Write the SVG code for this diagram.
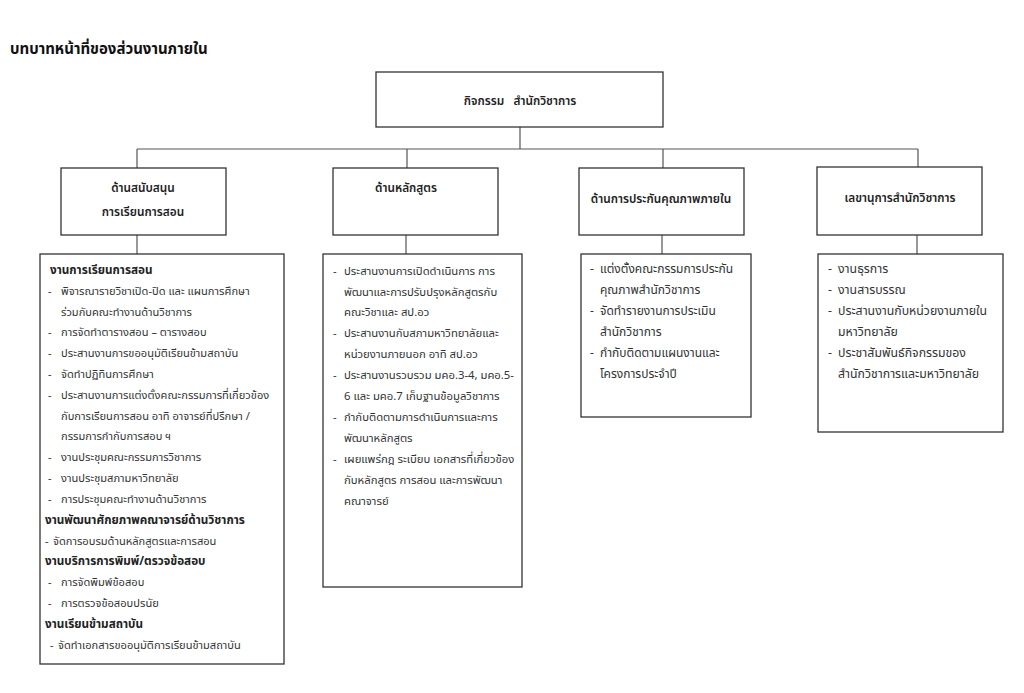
<svg xmlns="http://www.w3.org/2000/svg" width="1024" height="693" viewBox="0 0 1024 693">
<style>
text{font-family:"Noto Sans Thai","Noto Sans","DejaVu Sans",sans-serif;fill:#333;font-size:12px}
#c1 text{font-size:11.1px}
#c2 text{font-size:11.3px}
#c4 text{font-size:12.3px}
#c1 .b{font-size:11.7px;font-weight:bold;fill:#222}
.h{font-size:11.8px;font-weight:600;fill:#222;text-anchor:middle}
.t{font-size:15px;font-weight:bold;fill:#111}
.box{fill:#fff;stroke:#333;stroke-width:1.3}
.ln{stroke:#555;stroke-width:1.2;fill:none}
</style>
<rect width="1024" height="693" fill="#fff"/>
<text class="t" x="10" y="54">บทบาทหน้าที่ของส่วนงานภายใน</text>
<g id="connectors">
<path class="ln" d="M520 127V149M137 149H918M137 149V168M407 149V168M663 149V168M918 149V168"/>
<path class="ln" d="M137 235V254M406 235V254M662 235V254M917 235V254"/>
</g>
<g id="top">
<rect class="box" x="376" y="72" width="287" height="55"/>
<text class="h" x="520" y="105" xml:space="preserve">กิจกรรม   สำนักวิชาการ</text>
</g>
<g id="h1">
<rect class="box" x="61" y="168" width="165" height="67"/>
<text class="h" x="143" y="192">ด้านสนับสนุน</text>
<text class="h" x="143" y="216">การเรียนการสอน</text>
</g>
<g id="h2">
<rect class="box" x="333" y="168" width="165" height="67"/>
<text class="h" x="406" y="192">ด้านหลักสูตร</text>
</g>
<g id="h3">
<rect class="box" x="579" y="168" width="165" height="67"/>
<text class="h" x="661" y="203">ด้านการประกันคุณภาพภายใน</text>
</g>
<g id="h4">
<rect class="box" x="817" y="167" width="165" height="68"/>
<text class="h" x="900" y="202">เลขานุการสำนักวิชาการ</text>
</g>
<g id="c1">
<rect class="box" x="40" y="254" width="244" height="410"/>
<text class="b" x="50" y="274">งานการเรียนการสอน</text>
<text x="48" y="295">-<tspan x="61">พิจารณารายวิชาเปิด-ปิด และ แผนการศึกษา</tspan></text>
<text x="61" y="316">ร่วมกับคณะทำงานด้านวิชาการ</text>
<text x="48" y="336">-<tspan x="61">การจัดทำตารางสอน – ตารางสอบ</tspan></text>
<text x="48" y="357">-<tspan x="61">ประสานงานการขออนุมัติเรียนข้ามสถาบัน</tspan></text>
<text x="48" y="378">-<tspan x="61">จัดทำปฏิทินการศึกษา</tspan></text>
<text x="48" y="399">-<tspan x="61">ประสานงานการแต่งตั้งคณะกรรมการที่เกี่ยวข้อง</tspan></text>
<text x="61" y="420">กับการเรียนการสอน อาทิ อาจารย์ที่ปรึกษา /</text>
<text x="61" y="440">กรรมการกำกับการสอบ ฯ</text>
<text x="48" y="461">-<tspan x="61">งานประชุมคณะกรรมการวิชาการ</tspan></text>
<text x="48" y="482">-<tspan x="61">งานประชุมสภามหาวิทยาลัย</tspan></text>
<text x="48" y="503">-<tspan x="61">การประชุมคณะทำงานด้านวิชาการ</tspan></text>
<text class="b" x="45" y="524">งานพัฒนาศักยภาพคณาจารย์ด้านวิชาการ</text>
<text x="45" y="545">-<tspan x="53">จัดการอบรมด้านหลักสูตรและการสอน</tspan></text>
<text class="b" x="45" y="565">งานบริการการพิมพ์/ตรวจข้อสอบ</text>
<text x="48" y="586">-<tspan x="61">การจัดพิมพ์ข้อสอบ</tspan></text>
<text x="48" y="607">-<tspan x="61">การตรวจข้อสอบปรนัย</tspan></text>
<text class="b" x="45" y="628">งานเรียนข้ามสถาบัน</text>
<text x="50" y="649">-<tspan x="58">จัดทำเอกสารขออนุมัติการเรียนข้ามสถาบัน</tspan></text>
</g>
<g id="c2">
<rect class="box" x="323" y="254" width="199" height="333"/>
<text x="333" y="275">-<tspan x="344">ประสานงานการเปิดดำเนินการ การ</tspan></text>
<text x="344" y="296">พัฒนาและการปรับปรุงหลักสูตรกับ</text>
<text x="344" y="316">คณะวิชาและ สป.อว</text>
<text x="333" y="337">-<tspan x="344">ประสานงานกับสภามหาวิทยาลัยและ</tspan></text>
<text x="344" y="358">หน่วยงานภายนอก อาทิ สป.อว</text>
<text x="333" y="379">-<tspan x="344">ประสานงานรวบรวม มคอ.3-4, มคอ.5-</tspan></text>
<text x="344" y="400">6 และ มคอ.7 เก็บฐานข้อมูลวิชาการ</text>
<text x="333" y="421">-<tspan x="344">กำกับติดตามการดำเนินการและการ</tspan></text>
<text x="344" y="442">พัฒนาหลักสูตร</text>
<text x="333" y="463">-<tspan x="344">เผยแพร่กฎ ระเบียบ เอกสารที่เกี่ยวข้อง</tspan></text>
<text x="344" y="484">กับหลักสูตร การสอน และการพัฒนา</text>
<text x="344" y="505">คณาจารย์</text>
</g>
<g id="c3">
<rect class="box" x="581" y="254" width="170" height="163"/>
<text x="590" y="273">-<tspan x="600">แต่งตั้งคณะกรรมการประกัน</tspan></text>
<text x="600" y="294">คุณภาพสำนักวิชาการ</text>
<text x="590" y="315">-<tspan x="600">จัดทำรายงานการประเมิน</tspan></text>
<text x="600" y="336">สำนักวิชาการ</text>
<text x="590" y="357">-<tspan x="600">กำกับติดตามแผนงานและ</tspan></text>
<text x="600" y="378">โครงการประจำปี</text>
</g>
<g id="c4">
<rect class="box" x="818" y="254" width="185" height="178"/>
<text x="828" y="273">-<tspan x="838">งานธุรการ</tspan></text>
<text x="828" y="294">-<tspan x="838">งานสารบรรณ</tspan></text>
<text x="828" y="315">-<tspan x="838">ประสานงานกับหน่วยงานภายใน</tspan></text>
<text x="838" y="336">มหาวิทยาลัย</text>
<text x="828" y="357">-<tspan x="838">ประชาสัมพันธ์กิจกรรมของ</tspan></text>
<text x="838" y="378">สำนักวิชาการและมหาวิทยาลัย</text>
</g>
</svg>
